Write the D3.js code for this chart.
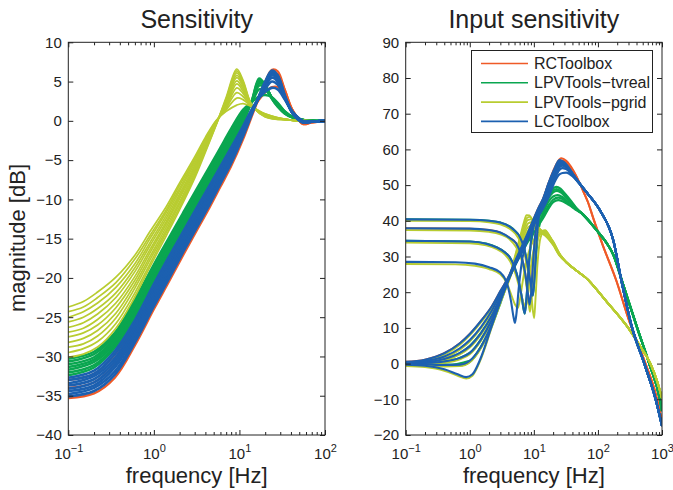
<!DOCTYPE html>
<html lang="en">
<head>
<meta charset="utf-8">
<title>Sensitivity / Input sensitivity</title>
<script src="https://cdn.jsdelivr.net/npm/d3@7"></script>
<style>
  body { margin: 0; background: #fff; }
  svg { font-family: "Liberation Sans", Arial, Helvetica, sans-serif; }
</style>
</head>
<body>
<svg id="chart" width="673" height="490"></svg>
<script>
// ---------------- data ----------------
var toolNames = ["RCToolbox", "LPVTools\u2212tvreal", "LPVTools\u2212pgrid", "LCToolbox"];
var toolColors = ["#ef5a27", "#0aa650", "#b8cc30", "#1c60b0"];

// left: sensitivity [dB], frequency grids in Hz
var sFreqPgrid = [0.1, 0.15, 0.22, 0.36, 0.6, 0.9, 1.4, 2, 3, 4, 5.4, 7, 9.3, 11, 14, 20, 40, 100];
var sPgrid = [
  [-23.7,-23.0,-21.8,-19.9,-17.1,-14.1,-10.9,-7.9,-4.6,-2.1,0.1,1.2,2.0,2.2,1.8,0.9,0.1,0],
  [-24.3,-23.7,-22.5,-20.6,-17.6,-14.6,-11.3,-8.2,-4.9,-2.3,0.05,1.4,2.9,2.7,1.8,0.86,0.1,0],
  [-25.0,-24.3,-23.2,-21.2,-18.2,-15.0,-11.6,-8.6,-5.1,-2.5,0,1.6,3.6,3.1,1.84,0.82,0.1,0],
  [-25.6,-25.0,-23.9,-21.9,-18.7,-15.5,-12.0,-8.9,-5.4,-2.7,-0.05,1.7,4.2,3.5,1.86,0.78,0.1,0],
  [-26.3,-25.7,-24.6,-22.5,-19.2,-15.9,-12.4,-9.3,-5.7,-2.9,-0.1,1.9,4.7,3.8,1.88,0.74,0.1,0],
  [-26.9,-26.4,-25.3,-23.2,-19.8,-16.4,-12.8,-9.6,-6.0,-3.1,-0.15,2.1,5.1,4.1,1.9,0.7,0.1,0],
  [-27.5,-27.0,-26.0,-23.8,-20.3,-16.8,-13.1,-9.9,-6.2,-3.2,-0.2,2.3,5.5,4.4,1.92,0.66,0.1,0],
  [-28.2,-27.7,-26.7,-24.5,-20.8,-17.3,-13.5,-10.3,-6.5,-3.4,-0.25,2.5,5.8,4.6,1.94,0.62,0.1,0],
  [-28.8,-28.4,-27.4,-25.1,-21.3,-17.7,-13.9,-10.6,-6.8,-3.6,-0.3,2.6,6.1,4.8,1.96,0.58,0.1,0],
  [-29.5,-29.0,-28.1,-25.8,-21.9,-18.2,-14.2,-11.0,-7.0,-3.8,-0.35,2.8,6.35,5.0,1.98,0.54,0.1,0],
  [-30.1,-29.7,-28.8,-26.4,-22.4,-18.6,-14.6,-11.3,-7.3,-4.0,-0.4,3.0,6.6,5.2,2.0,0.5,0.1,0]
];
var sFreq = [0.1, 0.2, 0.35, 0.6, 1, 1.5, 2.2, 3.2, 4.5, 6, 8, 11, 14, 17, 20, 24, 28, 34, 42, 55, 70, 100];
var sTvreal = [
  [-30.3,-29.4,-27.0,-22.8,-18.3,-14.9,-11.7,-8.6,-5.8,-3.4,-1.0,1.4,2.4,3.1,3.3,3.0,2.3,1.2,0.5,0.1,0,0],
  [-30.65,-29.7,-27.3,-23.2,-18.65,-15.2,-12.0,-8.9,-6.1,-3.7,-1.3,1.1,2.43,4.0,3.9,2.97,2.2,1.15,0.48,0.1,0,0],
  [-31.0,-30.1,-27.6,-23.5,-19.0,-15.6,-12.4,-9.3,-6.5,-4.1,-1.7,0.8,2.47,4.5,4.2,2.93,2.1,1.1,0.47,0.1,0,0],
  [-31.35,-30.4,-27.95,-23.9,-19.35,-15.9,-12.7,-9.6,-6.8,-4.4,-2.0,0.55,2.5,4.8,4.4,2.9,2.05,1.05,0.45,0.1,0,0],
  [-31.7,-30.7,-28.3,-24.3,-19.7,-16.2,-13.0,-9.9,-7.1,-4.7,-2.3,0.27,2.53,5.0,4.5,2.87,1.97,1.0,0.43,0.1,0,0],
  [-32.05,-31.1,-28.6,-24.6,-20.05,-16.6,-13.4,-10.3,-7.5,-5.1,-2.7,0,2.57,5.2,4.55,2.83,1.88,0.95,0.42,0.1,0,0],
  [-32.4,-31.4,-28.9,-25.0,-20.4,-16.9,-13.7,-10.6,-7.8,-5.4,-3.0,-0.3,2.6,5.4,4.6,2.8,1.8,0.9,0.4,0.1,0,0]
];
var sLC = [
  [-32.7,-31.8,-29.3,-25.4,-20.8,-17.3,-14.1,-11.0,-8.2,-5.8,-3.4,-0.7,1.5,2.9,3.7,4.2,4.0,2.7,1.1,0,-0.1,0],
  [-33.0,-32.2,-29.7,-25.8,-21.2,-17.7,-14.5,-11.4,-8.5,-6.1,-3.7,-0.9,1.41,2.94,4.1,5.0,4.6,2.8,1.1,0,-0.1,0],
  [-33.4,-32.5,-30.2,-26.2,-21.6,-18.1,-14.8,-11.7,-8.9,-6.4,-4.0,-1.1,1.33,2.99,4.4,5.5,5.0,2.9,1.05,-0.05,-0.1,0],
  [-33.7,-32.9,-30.6,-26.6,-22.0,-18.5,-15.2,-12.1,-9.2,-6.7,-4.3,-1.3,1.24,3.03,4.6,5.8,5.3,3.0,1.0,-0.1,-0.1,0],
  [-34.1,-33.3,-31.0,-27.0,-22.4,-18.9,-15.6,-12.4,-9.6,-7.1,-4.5,-1.4,1.16,3.07,4.7,6.0,5.5,3.0,1.0,-0.1,-0.1,0],
  [-34.4,-33.7,-31.4,-27.4,-22.8,-19.3,-16.0,-12.8,-9.9,-7.4,-4.8,-1.6,1.07,3.11,4.8,6.2,5.6,3.1,0.95,-0.15,-0.1,0],
  [-34.8,-34.0,-31.9,-27.8,-23.2,-19.7,-16.3,-13.1,-10.3,-7.7,-5.1,-1.8,0.99,3.16,4.9,6.3,5.7,3.15,0.9,-0.2,-0.1,0],
  [-35.1,-34.4,-32.3,-28.2,-23.6,-20.1,-16.7,-13.5,-10.6,-8.0,-5.4,-2.0,0.9,3.2,5.0,6.4,5.8,3.2,0.9,-0.2,-0.1,0]
];
var sRC = [
  [-33.0,-32.2,-29.8,-25.9,-21.3,-17.8,-14.6,-11.5,-8.7,-6.3,-3.9,-1.1,1.2,2.7,3.6,4.3,4.3,3.2,1.3,-0.2,-0.2,0],
  [-34.0,-33.3,-31.0,-27.1,-22.5,-19.0,-15.7,-12.6,-9.8,-7.3,-4.8,-1.7,1.0,3.0,4.6,6.0,5.9,3.9,1.3,-0.4,-0.2,0],
  [-35.3,-34.7,-32.7,-28.6,-24.0,-20.5,-17.1,-13.9,-11.0,-8.4,-5.8,-2.4,0.6,3.0,5.0,6.5,6.3,3.9,1.3,-0.4,-0.2,0]
];

// right: input sensitivity [dB], [Hz, dB] points; shared high-frequency tails
var ksLCTail = [[70,47.5],[107,43],[174,34.5],[237,22.5],[336,10.5],[541,-0.5],[795,-10],[1000,-17.5]];
var ksLC = [
  [[0.1,40.4],[1,40.3],[2,40.0],[3,39.5],[4.2,38.4],[5,37.3],[6,35.6],[7,32.5],[8,27.5],[9,22],[9.6,19],[10.1,22.5],[10.8,31],[11.6,39],[12.5,43.5],[14,46.0],[17,50.4],[21,54.2],[25,56.4],[28,56.6],[32,55.8],[40,53.3],[50,50.8]],
  [[0.1,37.9],[1,37.8],[2,37.4],[3,36.7],[4.2,35.2],[5.3,33.7],[6.3,30.5],[7.3,25.5],[8.1,19.5],[8.6,16.5],[9.1,20],[9.7,28],[10.5,36],[11.5,41],[12.5,43.5],[14,45.6],[17,49.8],[21,53.4],[25,55.6],[28,55.9],[32,55.3],[40,53.2],[50,50.8]],
  [[0.1,34.4],[1,34.2],[1.8,33.6],[2.6,32.6],[3.5,31.2],[4.2,29.8],[5,27],[5.8,23],[6.5,18.5],[7.2,14.0],[7.7,18.5],[8.3,27],[9,34],[10,38.6],[12,42.4],[14,45],[17,49.2],[21,52.8],[25,55.0],[28,55.4],[32,55],[40,53],[50,50.7]],
  [[0.1,28.5],[0.6,28.4],[1.2,28.0],[2,27.0],[3,25.5],[3.8,22.5],[4.4,17.5],[4.8,13.2],[5.07,11.4],[5.35,14],[5.8,21],[6.5,28.5],[7.5,33.5],[9,37.2],[12,41.8],[14,44.4],[17,48.4],[21,52.0],[25,54.4],[28,54.8],[32,54.6],[40,52.8],[50,50.7]],
  [[0.1,-0.3],[0.2,-0.6],[0.4,-1.6],[0.65,-3.0],[0.88,-3.8],[1.1,-3.0],[1.44,1.0],[2.2,10.5],[3,17.4],[4.2,24.2],[5,27.2],[6,30],[8,34.6],[9.8,38.5],[12,41.5],[14,43.5],[17.8,47.5],[21,50.8],[25,53.0],[28,53.4],[32,53.5],[40,52.5],[50,50.6]],
  [[0.1,-0.1],[0.2,-0.2],[0.4,-0.4],[0.7,-0.3],[1,0.8],[1.5,4.8],[2.2,11],[3,17.6],[4.2,24.4],[5,27.5],[6,30.3],[8,35.2],[9.8,39],[12,42.2],[14,44.3],[17,47.8],[21,51.6],[25,54.2],[28,54.7],[32,54.5],[40,52.8],[50,50.7]],
  [[0.1,0.1],[0.2,0.2],[0.4,0.6],[0.7,1.6],[1,3.0],[1.5,6.8],[2.2,12.2],[3,18],[4.2,24.5],[5,27.7],[6,30.6],[8,35.6],[9.8,39.4],[12,42.8],[14,45],[17,48.8],[21,52.6],[25,55.1],[28,55.5],[32,55],[40,53],[50,50.8]],
  [[0.1,0.2],[0.2,0.4],[0.4,1.3],[0.7,3.0],[1,4.9],[1.5,8.6],[2.2,13.4],[3,18.7],[4.2,24.6],[5,27.9],[6,30.9],[8,35.9],[9.8,39.7],[12,43.2],[14,45.5],[17,49.5],[21,53.3],[25,55.9],[28,56.1],[32,55.4],[40,53.2],[50,50.8]],
  [[0.1,0.3],[0.2,0.7],[0.4,2.0],[0.7,4.3],[1,6.6],[1.5,10.3],[2.2,14.8],[3,19.5],[4.2,24.8],[5,28.1],[6,31.2],[8,36.2],[9.8,40.0],[12,43.6],[14,46],[17,50.2],[21,53.9],[25,56.5],[28,56.4],[32,55.6],[40,53.3],[50,50.8]],
  [[0.1,0.5],[0.2,1.1],[0.4,2.9],[0.7,5.7],[1,8.3],[1.5,12.0],[2.2,16.0],[3,20.3],[4.2,25.0],[5,28.3],[6,31.5],[8,36.5],[9.8,40.3],[12,43.9],[14,46.3],[17,50.6],[21,54.6],[25,57.0],[28,56.7],[32,55.8],[40,53.3],[50,50.8]]
];
var ksRCTail = [[60,48],[70,45.2],[85,40.6],[120,33],[194,23.2],[300,12.5],[553,0],[800,-8.5],[1000,-16.2]];
var ksRC = [
  [[0.1,0.5],[0.2,1.1],[0.4,2.9],[0.7,5.7],[1,8.3],[1.5,12.0],[2.2,16.0],[3,20.3],[4.2,25.0],[5,28.3],[6,31.5],[8,36.5],[9.8,40.3],[12,43.9],[14,46.3],[17,50.6],[21,54.8],[25,57.2],[27,57.5],[32,56.8],[40,54.5],[50,51.2]],
  [[0.1,37.9],[1,37.8],[2,37.4],[3,36.7],[4.2,35.2],[5.3,33.7],[6.3,30.5],[7.3,25.5],[8.1,19.5],[8.6,16.5],[9.1,20],[9.7,28],[10.5,36],[11.5,41],[12.5,43.5],[14,45.6],[17,49.8],[21,53.8],[25,56.4],[28,56.9],[32,56.4],[40,54.3],[50,51.1]]
];
var ksTvrealTail = [[55,42.2],[95,37.4],[140,33.5],[174,30.5],[244,22.5],[410,10],[632,0],[927,-10],[1000,-13.3]];
var ksTvreal = [
  [[0.1,0.2],[0.4,1.3],[1,4.9],[1.5,8.6],[2.2,13.4],[3,18.7],[4.2,24.5],[6,30.6],[8,35.3],[9.8,38.5],[12,42],[14,44.4],[17,47.4],[20,49.1],[22.5,49.5],[26,49.0],[30,47.8],[38,45.6],[46,43.6]],
  [[0.1,0.1],[0.4,0.6],[1,3.0],[1.5,6.8],[2.2,12.2],[3,18],[4.2,24.5],[6,30.3],[8,34.8],[9.8,37.8],[12,41.3],[14,43.8],[17,46.8],[20,48.5],[22.5,48.9],[26,48.4],[30,47.3],[38,45.3],[46,43.5]],
  [[0.1,34.4],[1,34.2],[1.8,33.6],[2.6,32.6],[3.5,31.2],[4.2,29.8],[5,27],[5.8,23],[6.5,18.5],[7.2,14.0],[7.7,18.5],[8.3,27],[9,33.5],[10,37.5],[12,40.8],[14,43.2],[17,46.4],[20,48.0],[23,48.4],[27,47.8],[32,46.4],[40,44.4],[46,43.3]],
  [[0.1,40.4],[1,40.3],[2,40.0],[3,39.5],[4.2,38.4],[5,37.3],[6,35.6],[7,32.5],[8,27.5],[9,22],[9.6,19],[10.1,22.5],[10.8,30],[11.6,36.5],[12.5,39.5],[14,42.2],[17,45.4],[20,46.8],[23.5,47.2],[28,46.6],[34,45.2],[40,44],[46,43.1]],
  [[0.1,-0.1],[0.4,-0.4],[1,0.8],[1.5,4.8],[2.2,11],[3,17.6],[4.2,24.4],[6,30.2],[8,34.4],[9.8,37.2],[12,39.8],[14,41.6],[17,44.3],[20,45.9],[24,46.5],[28,46.1],[34,45.0],[40,44.0],[46,43.2]],
  [[0.1,0],[0.2,0],[0.4,-0.2],[0.7,-0.5],[1,0.5],[1.5,4.6],[2.2,10.6],[3,16.9],[4.2,24.3],[6,30],[8,34],[9.8,36.5],[12,39],[14,40.8],[17,43.5],[20,45.2],[24,45.8],[28,45.5],[34,44.6],[40,43.8],[46,43.0]]
];
var ksPgridTail = [[32,28.4],[45,26.2],[71,23.4],[95,20.8],[150,16.5],[220,13.0],[297,10],[450,5],[660,0],[850,-5.2],[1000,-9.7]];
var ksPgrid = [
  [[0.1,40.0],[1,39.9],[2,39.6],[3,39.0],[4.2,37.8],[5.2,36.3],[6.2,34],[7.2,30.5],[8.2,25],[9.2,18.5],[10.1,12.7],[10.6,18],[11.3,27],[12.2,33.5],[13.5,36.5],[15,37.2],[17,36],[20,33.6],[25,30.6]],
  [[0.1,37.4],[1,37.3],[2,36.9],[3,36.2],[4.2,34.8],[5.2,32.8],[6.3,29.5],[7.3,24.5],[8.1,18.5],[8.7,14.5],[9.2,18],[9.9,26],[10.8,32.5],[12,35.8],[13.5,37.2],[15,37.4],[17,36.2],[20,33.8],[25,30.7]],
  [[0.1,33.9],[1,33.7],[1.8,33.1],[2.6,32.1],[3.5,30.6],[4.3,28.5],[5.2,25],[6.1,20.5],[6.9,17],[7.5,16.0],[8,18.5],[8.7,25],[9.7,31],[11,34.6],[12.5,36.3],[14,36.9],[16,36.3],[20,34.0],[25,30.8]],
  [[0.1,27.9],[0.6,27.8],[1.2,27.4],[2,26.5],[3,25.0],[3.8,22.5],[4.5,19],[5.1,16.5],[5.6,15.5],[6.0,17.5],[6.7,23],[7.7,29],[9,33],[11,35.8],[13,36.8],[15,36.8],[17,36.0],[20,34.2],[25,30.9]],
  [[0.1,-0.7],[0.2,-1.0],[0.4,-2.0],[0.65,-3.4],[0.88,-4.2],[1.1,-3.4],[1.44,0.6],[2.2,10.1],[3,17.0],[4.2,23.8],[5.2,28.5],[6.2,32.5],[7.2,35.5],[8.2,37.3],[9.5,37.8],[11,37.4],[13,36.6],[16,35.4],[20,33.2],[25,30.3]],
  [[0.1,-0.5],[0.2,-0.6],[0.4,-0.8],[0.7,-0.7],[1,0.4],[1.5,4.4],[2.2,10.6],[3,17.2],[4.2,24.0],[5.2,29],[6.2,33.3],[7.2,36.5],[8.2,38.3],[9.3,38.7],[11,37.9],[13,36.9],[16,35.5],[20,33.4],[25,30.4]],
  [[0.1,-0.3],[0.2,-0.2],[0.4,0.2],[0.7,1.2],[1,2.6],[1.5,6.4],[2.2,11.8],[3,17.6],[4.2,24.1],[5.2,29.4],[6.2,34],[7.2,37.4],[8.2,39.3],[9.2,39.6],[11,38.4],[13,37.1],[16,35.6],[20,33.5],[25,30.5]],
  [[0.1,-0.2],[0.2,0],[0.4,0.9],[0.7,2.6],[1,4.5],[1.5,8.2],[2.2,13.0],[3,18.3],[4.2,24.2],[5.2,29.8],[6.2,34.7],[7.2,38.4],[8,40.2],[9,40.4],[10.5,39.2],[13,37.3],[16,35.7],[20,33.7],[25,30.6]],
  [[0.1,-0.1],[0.2,0.3],[0.4,1.6],[0.7,3.9],[1,6.2],[1.5,9.9],[2.2,14.4],[3,19.1],[4.2,24.4],[5.2,30.3],[6.2,35.4],[7,38.8],[7.8,40.8],[8.7,41.1],[10,39.8],[12.5,37.6],[16,35.8],[20,33.9],[25,30.7]],
  [[0.1,0.1],[0.2,0.7],[0.4,2.5],[0.7,5.3],[1,7.9],[1.5,11.6],[2.2,15.6],[3,19.9],[4.2,24.6],[5.2,30.8],[6.2,36],[7,39.6],[7.7,41.6],[8.5,41.5],[9.5,40.2],[12,37.9],[16,35.9],[20,34.1],[25,30.8]]
];

// ticks
var sYTicks = [-40, -35, -30, -25, -20, -15, -10, -5, 0, 5, 10];
var ksYTicks = [-20, -10, 0, 10, 20, 30, 40, 50, 60, 70, 80, 90];
var sXTicks = [0.1, 1, 10, 100];
var ksXTicks = [0.1, 1, 10, 100, 1000];
var xExponents = ["\u22121", "0", "1", "2", "3"];

// ---------------- drawing ----------------
var svg = d3.select("#chart");
var ink = "#222";

function gridRows(freq, rows) {
    return rows.map(function(r) { return r.map(function(v, i) { return [freq[i], v]; }); });
}
function withTail(heads, tail) {
    return heads.map(function(h) { return h.concat(tail); });
}

function drawPanel(p) {
    var x = d3.scaleLog().domain(p.xDomain).range([p.left, p.right]);
    var y = d3.scaleLinear().domain(p.yDomain).range([p.bottom, p.top]);
    var g = svg.append("g");

    g.append("clipPath").attr("id", "clip-" + p.id)
     .append("rect")
     .attr("x", p.left).attr("y", p.top)
     .attr("width", p.right - p.left).attr("height", p.bottom - p.top);

    var line = d3.line()
                 .x(function(d) { return x(d[0]); })
                 .y(function(d) { return y(d[1]); })
                 .curve(p.curve);

    var plot = g.append("g").attr("clip-path", "url(#clip-" + p.id + ")");
    p.series.forEach(function(s) {
        plot.append("g")
            .selectAll("path")
            .data(s.curves)
            .enter()
            .append("path")
            .attr("d", line)
            .attr("fill", "none")
            .attr("stroke", s.color)
            .attr("stroke-width", s.width)
            .attr("stroke-linejoin", "round");
    });

    // minor ticks (2..9 in every decade)
    var minor = x.ticks().filter(function(v) {
        var l = Math.log10(v);
        return Math.abs(l - Math.round(l)) > 1e-6;
    });

    var xb = g.append("g").attr("transform", "translate(0," + p.bottom + ")")
              .call(d3.axisBottom(x).tickValues(p.xTicks).tickSize(-5).tickSizeOuter(0));
    g.append("g").attr("transform", "translate(0," + p.bottom + ")")
     .call(d3.axisBottom(x).tickValues(minor).tickSize(-3).tickSizeOuter(0).tickFormat(""));
    g.append("g").attr("transform", "translate(0," + p.top + ")")
     .call(d3.axisTop(x).tickValues(p.xTicks).tickSize(-5).tickSizeOuter(0).tickFormat(""));
    g.append("g").attr("transform", "translate(0," + p.top + ")")
     .call(d3.axisTop(x).tickValues(minor).tickSize(-3).tickSizeOuter(0).tickFormat(""));
    var yl = g.append("g").attr("transform", "translate(" + p.left + ",0)")
              .call(d3.axisLeft(y).tickValues(p.yTicks).tickSize(-5).tickSizeOuter(0));
    g.append("g").attr("transform", "translate(" + p.right + ",0)")
     .call(d3.axisRight(y).tickValues(p.yTicks).tickSize(-5).tickSizeOuter(0).tickFormat(""));

    g.selectAll(".domain").remove();
    g.selectAll(".tick line").attr("stroke", ink);

    // x tick labels as 10 with superscript exponent
    xb.attr("font-size", null).attr("font-family", null);
    xb.selectAll(".tick text")
      .text(null)
      .attr("y", 24)
      .attr("dy", null)
      .attr("fill", ink)
      .attr("font-size", 15)
      .each(function(d, i) {
          var t = d3.select(this);
          t.append("tspan").text("10");
          t.append("tspan").attr("dy", -7).attr("font-size", 11).text(xExponents[i]);
      });

    yl.attr("font-size", null).attr("font-family", null);
    yl.selectAll(".tick text")
      .attr("x", -6.5)
      .attr("fill", ink)
      .attr("font-size", 15);

    // box
    g.append("rect")
     .attr("x", p.left).attr("y", p.top)
     .attr("width", p.right - p.left).attr("height", p.bottom - p.top)
     .attr("fill", "none").attr("stroke", ink).attr("stroke-width", 1);

    // title and x label
    g.append("text")
     .attr("x", (p.left + p.right) / 2).attr("y", 28)
     .attr("text-anchor", "middle").attr("font-size", 25).attr("fill", ink)
     .text(p.title);
    g.append("text")
     .attr("x", (p.left + p.right) / 2).attr("y", 483)
     .attr("text-anchor", "middle").attr("font-size", 22).attr("fill", ink)
     .text("frequency [Hz]");
    return g;
}

drawPanel({
    id: "s", title: "Sensitivity",
    left: 68.3, right: 325, top: 42.3, bottom: 435,
    xDomain: [0.1, 100], yDomain: [-40, 10],
    xTicks: sXTicks, yTicks: sYTicks,
    curve: d3.curveCatmullRom.alpha(0.5),
    series: [
        { color: toolColors[0], width: 2.2, curves: gridRows(sFreq, sRC) },
        { color: toolColors[1], width: 2.5, curves: gridRows(sFreq, sTvreal) },
        { color: toolColors[2], width: 1.7, curves: gridRows(sFreqPgrid, sPgrid) },
        { color: toolColors[3], width: 2.6, curves: gridRows(sFreq, sLC) }
    ]
});

var right = drawPanel({
    id: "ks", title: "Input sensitivity",
    left: 405.7, right: 662, top: 42.3, bottom: 435,
    xDomain: [0.1, 1000], yDomain: [-20, 90],
    xTicks: ksXTicks, yTicks: ksYTicks,
    curve: d3.curveMonotoneX,
    series: [
        { color: toolColors[0], width: 2.0, curves: withTail(ksRC, ksRCTail) },
        { color: toolColors[1], width: 2.2, curves: withTail(ksTvreal, ksTvrealTail) },
        { color: toolColors[2], width: 1.9, curves: withTail(ksPgrid, ksPgridTail) },
        { color: toolColors[3], width: 2.1, curves: withTail(ksLC, ksLCTail) }
    ]
});

// y label
svg.append("text")
   .attr("transform", "translate(25,238) rotate(-90)")
   .attr("text-anchor", "middle").attr("font-size", 22).attr("fill", ink)
   .text("magnitude [dB]");

// legend
var legend = right.append("g");
legend.append("rect")
      .attr("x", 471.5).attr("y", 50.5).attr("width", 181).attr("height", 82)
      .attr("fill", "#fff").attr("stroke", ink).attr("stroke-width", 1);
var items = legend.selectAll("g.item")
                  .data(toolNames)
                  .enter()
                  .append("g")
                  .attr("class", "item")
                  .attr("transform", function(d, i) { return "translate(0," + (63.5 + i * 19.3) + ")"; });
items.append("line")
     .attr("x1", 481).attr("x2", 528)
     .attr("stroke", function(d, i) { return toolColors[i]; })
     .attr("stroke-width", 1.6);
items.append("text")
     .attr("x", 534).attr("y", 5.6)
     .attr("font-size", 16).attr("fill", ink)
     .text(function(d) { return d; });
</script>
</body>
</html>
